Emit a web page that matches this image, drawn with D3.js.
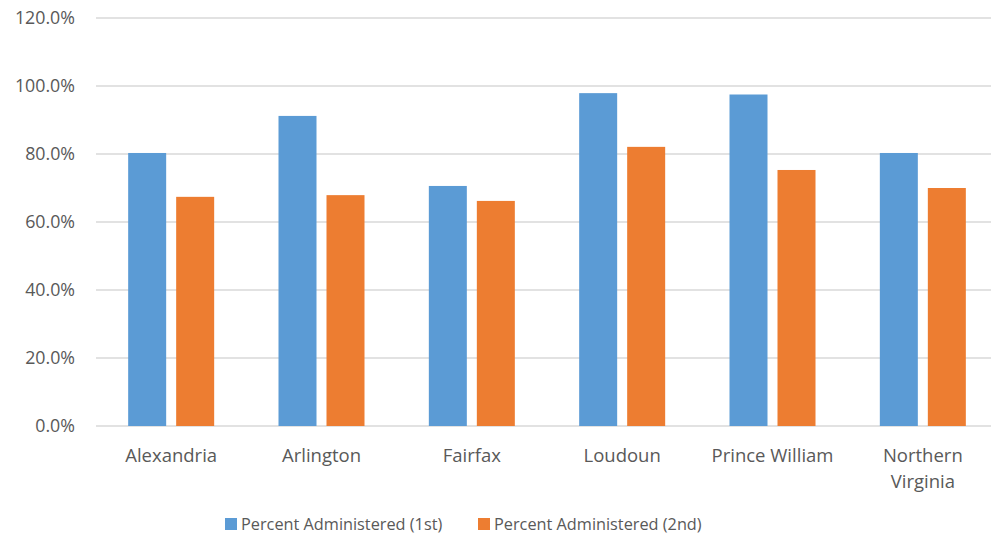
<!DOCTYPE html>
<html>
<head>
<meta charset="utf-8">
<script src="https://cdn.jsdelivr.net/npm/d3@7"></script>
<style>
  body { margin: 0; background: #fff; }
  text { font-family: "Open Sans", "Noto Sans", sans-serif; fill: #595959; }
</style>
</head>
<body>
<svg></svg>
<script>
const categories = ['Alexandria', 'Arlington', 'Fairfax', 'Loudoun', 'Prince William', 'Northern Virginia'];
const series = ['Percent Administered (1st)', 'Percent Administered (2nd)'];
const first = [80.3, 91.2, 70.6, 97.9, 97.5, 80.3];
const second = [67.4, 67.9, 66.2, 82.1, 75.3, 70.0];
const yTicks = [0, 20, 40, 60, 80, 100, 120];
const colors = ['#5b9bd5', '#ed7d31'];

const width = 991, height = 541;
const margin = { left: 96, right: -7, top: 18, bottom: 115 };

const svg = d3.select('svg')
    .attr('width', width)
    .attr('height', height);

const x = d3.scaleBand()
    .domain(categories)
    .range([margin.left, width - margin.right]);

const y = d3.scaleLinear()
    .domain([0, 120])
    .range([height - margin.bottom, margin.top]);

// gridlines
svg.append('g')
    .selectAll('line')
    .data(yTicks)
    .join('line')
    .attr('x1', margin.left)
    .attr('x2', width)
    .attr('y1', d => y(d))
    .attr('y2', d => y(d))
    .attr('stroke', '#d9d9d9')
    .attr('stroke-width', 1.3);

// y labels
svg.append('g')
    .selectAll('text')
    .data(yTicks)
    .join('text')
    .attr('x', 75)
    .attr('y', d => y(d))
    .attr('dy', '0.35em')
    .attr('text-anchor', 'end')
    .style('font-size', '17.8px')
    .text(d => d.toFixed(1) + '%');

const barW = 38, gap = 10;
const groups = svg.append('g')
    .selectAll('g')
    .data(categories)
    .join('g')
    .attr('transform', d => `translate(${x(d) + x.bandwidth() / 2}, 0)`);

[first, second].forEach((vals, s) => {
    groups.append('rect')
        .attr('x', s === 0 ? -(barW + gap / 2) : gap / 2)
        .attr('width', barW)
        .attr('y', (d, i) => y(vals[i]))
        .attr('height', (d, i) => y(0) - y(vals[i]))
        .attr('fill', colors[s]);
});

// category labels
groups.append('text')
    .attr('text-anchor', 'middle')
    .style('font-size', '18.5px')
    .each(function (d) {
        const words = d === 'Northern Virginia' ? ['Northern', 'Virginia'] : [d];
        d3.select(this).selectAll('tspan')
            .data(words)
            .join('tspan')
            .attr('x', 0)
            .attr('y', (w, i) => 462 + i * 26)
            .text(w => w);
    });

// legend
const legend = svg.append('g')
    .selectAll('g')
    .data(series)
    .join('g')
    .attr('transform', (d, i) => `translate(${i === 0 ? 225 : 478}, 518)`);

legend.append('rect')
    .attr('width', 12)
    .attr('height', 12)
    .attr('fill', (d, i) => colors[i]);

legend.append('text')
    .attr('x', 16)
    .attr('y', 6)
    .attr('dy', '0.35em')
    .style('font-size', '16.3px')
    .text(d => d);
</script>
</body>
</html>
